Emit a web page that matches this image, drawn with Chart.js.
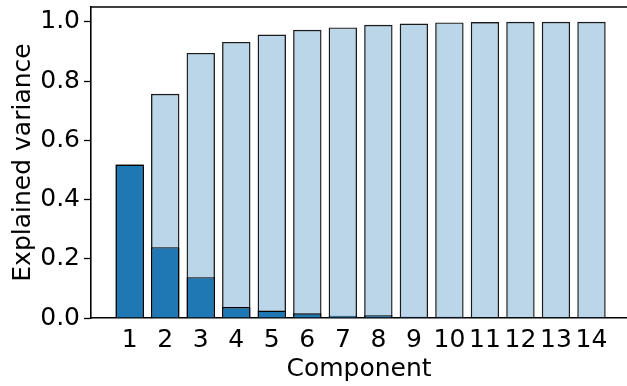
<!DOCTYPE html>
<html>
<head>
<meta charset="utf-8">
<script src="https://cdn.jsdelivr.net/npm/chart.js@4/dist/chart.umd.min.js"></script>
<style>
  html, body { margin: 0; padding: 0; background: #fff; overflow: hidden; }
  canvas { display: block; }
</style>
</head>
<body>
<canvas id="chartCanvas" width="627" height="386"></canvas>
<script>
    // explained variance per principal component
    var components = [1, 2, 3, 4, 5, 6, 7, 8, 9, 10, 11, 12, 13, 14];
    var individual = [0.518, 0.239, 0.138, 0.037, 0.025, 0.016, 0.008, 0.009, 0.004, 0.004, 0.001, 0.001, 0.0005, 0.0003];
    var cumulative = [0.518, 0.757, 0.895, 0.932, 0.957, 0.973, 0.981, 0.990, 0.994, 0.998, 0.999, 1.0, 1.0, 1.0];
    var yTicks = [0.0, 0.2, 0.4, 0.6, 0.8, 1.0];

    var toPoints = function(vals) {
        return components.map(function(c, i) { return { x: c, y: vals[i] }; });
    };

    var fontFamily = "'DejaVu Sans', sans-serif";
    var fontSize = 25;

    var topSpine = {
        id: 'topSpine',
        afterDraw: function(chart) {
            var a = chart.chartArea;
            var ctx = chart.ctx;
            ctx.save();
            ctx.strokeStyle = '#000';
            ctx.lineWidth = 1.6;
            ctx.beginPath();
            ctx.moveTo(a.left - 0.8, a.top);
            ctx.lineTo(a.right, a.top);
            ctx.stroke();
            ctx.restore();
        }
    };

    var chartData = {
        datasets: [
            {
                label: 'Individual',
                data: toPoints(individual),
                backgroundColor: '#1f77b4',
                borderColor: '#000',
                borderWidth: 1.4,
                order: 0
            },
            {
                label: 'Cumulative',
                data: toPoints(cumulative),
                backgroundColor: 'rgba(31,119,180,0.3)',
                borderColor: '#1a1a1a',
                borderWidth: 1.4,
                order: 1
            }
        ]
    };

    var chartOptions = {
        responsive: false,
        animation: false,
        devicePixelRatio: 1,
        layout: { padding: { top: 7, right: 0, bottom: 0, left: 0 } },
        plugins: { legend: { display: false }, tooltip: { enabled: false } },
        datasets: { bar: { grouped: false, barPercentage: 0.8, categoryPercentage: 1 } },
        scales: {
            x: {
                type: 'linear',
                min: -0.09,
                max: 15.0,
                offset: false,
                afterBuildTicks: function(scale) {
                    scale.ticks = components.map(function(c) { return { value: c }; });
                },
                afterFit: function(scale) {
                    scale.height = 68;
                    scale.paddingLeft = 0;
                    scale.paddingRight = 0;
                },
                grid: { display: false, drawTicks: false },
                border: { display: true, color: '#000', width: 1.6 },
                ticks: {
                    autoSkip: false,
                    maxRotation: 0,
                    padding: 7,
                    color: '#000',
                    font: { family: fontFamily, size: fontSize },
                    callback: function(v) { return String(v); }
                },
                title: {
                    display: true,
                    text: 'Component',
                    color: '#000',
                    font: { family: fontFamily, size: fontSize },
                    padding: { top: 0, bottom: 2 }
                }
            },
            y: {
                min: 0,
                max: 1.05,
                afterBuildTicks: function(scale) {
                    scale.ticks = yTicks.map(function(v) { return { value: v }; });
                },
                afterFit: function(scale) {
                    scale.width = 91;
                    scale.paddingTop = 0;
                    scale.paddingBottom = 0;
                },
                grid: { display: true, drawOnChartArea: false, drawTicks: true, tickLength: 7, color: '#000', tickWidth: 1.3 },
                border: { display: true, color: '#000', width: 1.6 },
                ticks: {
                    padding: 4,
                    color: '#000',
                    font: { family: fontFamily, size: fontSize },
                    callback: function(v) { return Number(v).toFixed(1); }
                },
                title: {
                    display: true,
                    text: 'Explained variance',
                    color: '#000',
                    font: { family: fontFamily, size: fontSize },
                    padding: { top: 8, bottom: 0 }
                }
            }
        }
    };

    var ctx = document.getElementById('chartCanvas').getContext('2d');
    window.myBars = new Chart(ctx, {
        type: 'bar',
        data: chartData,
        options: chartOptions,
        plugins: [topSpine]
    });
</script>
</body>
</html>
